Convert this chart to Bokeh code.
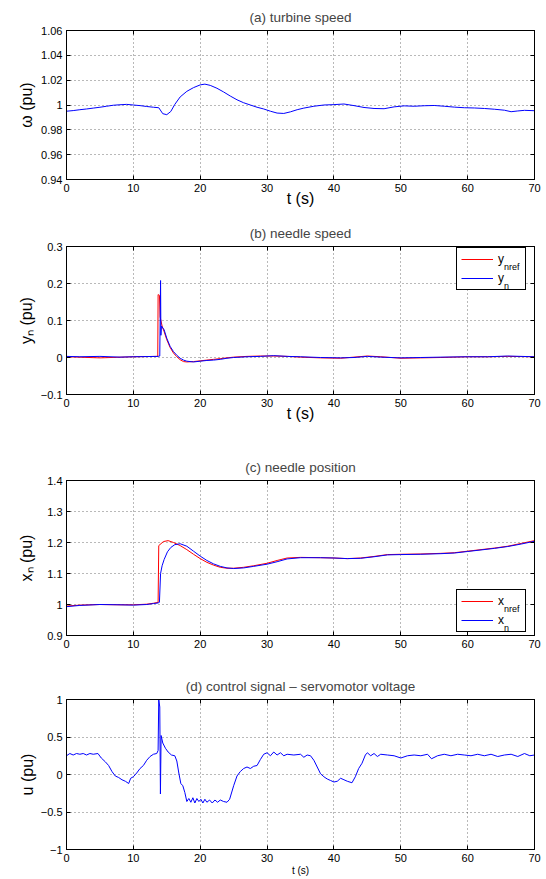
from bokeh.plotting import figure
from bokeh.layouts import column
from bokeh.models import (Range1d, FixedTicker, CustomJSTickFormatter, LinearAxis,
                          Legend, LegendItem)
from bokeh.embed import file_html
from bokeh.resources import INLINE

FONT = "Liberation Sans"

# ---------------- data ----------------
x_ticks = [0, 10, 20, 30, 40, 50, 60, 70]

# (a) turbine speed
t_a = [0, 1, 2, 3, 4, 5, 6, 7, 8, 9,
       10, 11, 12, 13, 13.8, 14.4, 15.0, 15.6, 16.2, 17.0,
       18, 19, 20, 20.7, 21.5, 22.5, 23.5, 24.5, 25.5, 26.5,
       27.5, 28.5, 29.5, 30.5, 31.5, 32.5, 33.5, 34.5, 35.5, 37,
       38.5, 40, 41.5, 43, 44.5, 46, 47.5, 49, 50.5, 52,
       53.5, 55, 56.5, 58, 59.5, 61, 62.5, 64, 65.5, 66.5,
       67.5, 68.5, 70]
omega = [0.9950, 0.9955, 0.9962, 0.9968, 0.9975, 0.9982, 0.9990, 0.9998, 1.0002, 1.0005,
         1.0000, 0.9995, 0.9988, 0.9982, 0.9978, 0.9930, 0.9922, 0.9948, 1.0005, 1.0065,
         1.0110, 1.0140, 1.0162, 1.0168, 1.0158, 1.0135, 1.0105, 1.0072, 1.0042, 1.0018,
         1.0000, 0.9982, 0.9968, 0.9950, 0.9935, 0.9932, 0.9945, 0.9962, 0.9975, 0.9990,
         1.0000, 1.0003, 1.0008, 0.9995, 0.9980, 0.9972, 0.9970, 0.9985, 0.9993, 0.9990,
         0.9994, 0.9996, 0.9990, 0.9983, 0.9978, 0.9976, 0.9972, 0.9966, 0.9958, 0.9946,
         0.9952, 0.9957, 0.9954]
omega_ticks = [0.94, 0.96, 0.98, 1.0, 1.02, 1.04, 1.06]

# (b) needle speed
t_b_ref = [0, 5, 10, 13.65, 13.7, 13.9, 14.0, 14.3, 14.6, 15.0,
           15.5, 16.0, 16.5, 17.0, 17.5, 18.0, 19.0, 20.0, 21.0, 22.0,
           23, 24, 25, 27, 29, 31, 33, 35, 38, 41,
           43, 45, 47, 50, 53, 56, 60, 63, 66, 70]
y_nref = [0.002, -0.001, 0.002, 0.003, 0.170, 0.168, 0.110, 0.085, 0.070, 0.048,
          0.027, 0.012, 0.002, -0.006, -0.011, -0.012, -0.011, -0.009, -0.007, -0.005,
          -0.003, -0.001, 0.001, 0.003, 0.004, 0.004, 0.003, 0.001, -0.001, -0.002,
          0.001, 0.004, 0.002, -0.002, -0.001, 0.000, 0.002, 0.002, 0.003, 0.002]
t_b = [0, 2, 5, 8, 10, 13.7, 13.95, 14.07, 14.12, 14.2,
       14.6, 15, 15.5, 16, 16.5, 17, 17.5, 18, 19, 20,
       21, 22, 23, 24, 25, 27, 29, 31, 33, 35,
       38, 41, 43, 45, 47, 50, 53, 56, 60, 63,
       66, 70]
y_n = [0.003, 0.002, 0.003, 0.001, 0.002, 0.003, 0.004, 0.208, 0.060, 0.085,
       0.075, 0.052, 0.030, 0.016, 0.006, -0.002, -0.007, -0.010, -0.012, -0.010,
       -0.008, -0.007, -0.005, -0.002, 0.000, 0.002, 0.003, 0.005, 0.003, 0.002,
       0.000, -0.001, 0.000, 0.003, 0.001, -0.001, 0.000, 0.001, 0.002, 0.002,
       0.004, 0.002]
yn_ticks = [-0.1, 0.0, 0.1, 0.2, 0.3]

# (c) needle position
t_c_ref = [0, 2, 5, 8, 10, 12, 13, 13.7, 13.8, 14.5,
           15.2, 16, 17, 18, 19, 20, 21, 22, 23, 24,
           25, 26.5, 28, 30, 31.5, 33, 35, 38, 40, 42,
           44, 46, 48, 50, 53, 56, 58, 60, 62, 64,
           66, 68, 70]
x_nref = [0.995, 0.998, 1.000, 0.999, 0.999, 1.001, 1.004, 1.007, 1.190, 1.203,
          1.206, 1.200, 1.190, 1.177, 1.162, 1.148, 1.136, 1.127, 1.120, 1.117,
          1.117, 1.120, 1.125, 1.133, 1.142, 1.150, 1.152, 1.151, 1.150, 1.148,
          1.150, 1.155, 1.161, 1.162, 1.163, 1.165, 1.167, 1.172, 1.177, 1.182,
          1.188, 1.197, 1.206]
t_c = [0, 2, 5, 8, 10, 12, 13, 13.7, 13.9, 14.07,
       14.3, 14.6, 15.1, 15.6, 16.2, 17, 18, 19, 20, 21,
       22, 23, 24, 25, 26.5, 28, 30, 31.5, 33, 35,
       38, 40, 42, 44, 46, 48, 50, 53, 56, 58,
       60, 62, 64, 66, 68, 70]
x_n = [0.993, 0.997, 1.000, 0.999, 0.998, 1.000, 1.003, 1.005, 1.007, 1.100,
       1.125, 1.145, 1.170, 1.184, 1.193, 1.196, 1.188, 1.172, 1.156, 1.142,
       1.131, 1.123, 1.118, 1.116, 1.118, 1.123, 1.130, 1.138, 1.147, 1.151,
       1.151, 1.150, 1.148, 1.149, 1.154, 1.160, 1.161, 1.162, 1.164, 1.166,
       1.171, 1.176, 1.181, 1.187, 1.195, 1.204]
xn_ticks = [0.9, 1.0, 1.1, 1.2, 1.3, 1.4]

# (d) control signal
t_d = [0, 0.5, 1.0, 1.5, 2.0, 2.5, 3.0, 3.5, 4.0, 4.7,
       5.2, 5.8, 6.3, 6.8, 7.3, 7.8, 8.3, 8.8, 9.3, 9.6,
       10.0, 10.5, 11.0, 11.5, 12.0, 12.5, 13.0, 13.5, 13.7, 13.8,
       13.95, 14.05, 14.15, 14.4, 14.8, 15.2, 15.7, 16.2, 16.5, 16.8,
       17.1, 17.4, 17.7, 18.0, 18.3, 18.6, 18.9, 19.2, 19.5, 19.8,
       20.1, 20.4, 20.7, 21.0, 21.4, 21.8, 22.2, 22.6, 23.0, 23.5,
       24.0, 24.4, 25.0, 25.5, 26.0, 26.5, 27.0, 27.5, 28.0, 28.5,
       29.0, 29.5, 30.0, 30.5, 31.0, 31.5, 32.0, 32.5, 33.0, 34.0,
       35.0, 35.5, 36.0, 36.5, 37.0, 37.5, 38.0, 38.5, 39.0, 39.5,
       40.0, 40.5, 41.0, 41.5, 42.0, 42.7, 43.2, 43.7, 44.2, 44.7,
       45.0, 45.5, 46.0, 46.5, 47.0, 48.0, 49.0, 50.0, 51.0, 52.0,
       53.0, 54.0, 54.6, 55.5, 56.5, 57.5, 58.5, 59.5, 60.5, 61.5,
       62.5, 63.5, 64.5, 65.5, 66.5, 67.5, 68.5, 69.3, 70.0]
u = [0.25, 0.28, 0.26, 0.28, 0.27, 0.28, 0.26, 0.28, 0.27, 0.28,
     0.22, 0.17, 0.12, 0.04, -0.02, -0.04, -0.07, -0.09, -0.12, -0.05,
     -0.03, 0.02, 0.08, 0.12, 0.19, 0.24, 0.27, 0.28, 0.32, 1.00,
     0.90, -0.26, 0.52, 0.42, 0.35, 0.30, 0.26, 0.25, 0.18, 0.02,
     -0.12, -0.15, -0.24, -0.36, -0.32, -0.37, -0.31, -0.38, -0.32, -0.36,
     -0.33, -0.38, -0.33, -0.37, -0.34, -0.38, -0.34, -0.37, -0.34, -0.36,
     -0.37, -0.33, -0.15, -0.02, 0.04, 0.08, 0.10, 0.08, 0.11, 0.12,
     0.20, 0.27, 0.29, 0.25, 0.30, 0.26, 0.29, 0.25, 0.27, 0.26,
     0.27, 0.23, 0.26, 0.25, 0.19, 0.10, 0.01, -0.03, -0.06, -0.08,
     -0.10, -0.09, -0.05, -0.07, -0.09, -0.11, -0.03, 0.08, 0.15, 0.26,
     0.29, 0.25, 0.28, 0.24, 0.27, 0.26, 0.25, 0.22, 0.25, 0.26,
     0.25, 0.27, 0.21, 0.25, 0.27, 0.25, 0.27, 0.26, 0.25, 0.27,
     0.25, 0.27, 0.24, 0.26, 0.27, 0.24, 0.28, 0.25, 0.26]
u_ticks = [-1.0, -0.5, 0.0, 0.5, 1.0]

BLUE = "#0000ff"
RED = "#ff0000"

FMT_CODE = "const v = Math.round(tick*1000)/1000; return String(v).replace('-', '\u2212');"


def make_panel(title, ylo, yhi, yticks, ylabel, frame_h, top, bottom, ylab_standoff,
               xlabel="t (s)", xlabel_size="16px", xlabel_standoff=-5):
    p = figure(frame_width=468, frame_height=frame_h,
               min_border_left=66, min_border_right=10,
               min_border_top=top, min_border_bottom=bottom,
               x_range=Range1d(0, 70), y_range=Range1d(ylo, yhi),
               output_backend="svg", toolbar_location=None, title=title)
    p.title.text_font = FONT
    p.title.text_font_size = "13.5px"
    p.title.text_font_style = "normal"
    p.title.align = "center"
    p.title.standoff = 12
    p.outline_line_color = "black"
    p.outline_line_width = 1
    p.background_fill_color = "white"
    p.border_fill_color = "white"

    xt = FixedTicker(ticks=x_ticks)
    yt = FixedTicker(ticks=yticks)
    for ax, tk in ((p.xaxis[0], xt), (p.yaxis[0], yt)):
        ax.ticker = tk
        ax.formatter = CustomJSTickFormatter(code=FMT_CODE)
        ax.major_tick_in = 4
        ax.major_tick_out = 0
        ax.minor_tick_line_color = None
        ax.axis_line_color = "black"
        ax.major_tick_line_color = "black"
        ax.major_label_text_font = FONT
        ax.major_label_text_font_size = "11px"
        ax.major_label_text_color = "black"
        ax.major_label_standoff = 4
        ax.axis_label_text_font = FONT
        ax.axis_label_text_font_style = "normal"
        ax.axis_label_text_color = "black"
    p.yaxis[0].axis_label = ylabel
    p.yaxis[0].axis_label_text_font_size = "16px"
    p.yaxis[0].axis_label_standoff = ylab_standoff
    if xlabel:
        p.xaxis[0].axis_label = xlabel
        p.xaxis[0].axis_label_text_font_size = xlabel_size
        p.xaxis[0].axis_label_standoff = xlabel_standoff

    # mirrored ticks on top and right (MATLAB box style)
    for side, tk in (("right", yt), ("above", xt)):
        ax = LinearAxis(ticker=tk, major_tick_in=4, major_tick_out=0,
                        minor_tick_line_color=None, major_label_text_font_size="0px",
                        major_label_text_alpha=0, major_label_standoff=0,
                        axis_line_color="black", major_tick_line_color="black")
        p.add_layout(ax, side)

    p.xgrid.ticker = xt
    p.ygrid.ticker = yt
    for g in (p.xgrid[0], p.ygrid[0]):
        g.grid_line_color = "black"
        g.grid_line_alpha = 0.55
        g.grid_line_dash = "1 3"
        g.grid_line_width = 1
    return p


def sub_legend(p, r1, r2, loc, main, sub1, sub2):
    # main legend: line samples + base letter
    leg = Legend(items=[LegendItem(label=main, renderers=[r1]),
                        LegendItem(label=main, renderers=[r2])],
                 location=loc, padding=4, glyph_width=32, glyph_height=14,
                 label_height=14, label_width=23, label_standoff=5, spacing=5,
                 margin=0, border_line_color="black", border_line_width=1,
                 border_line_alpha=1, background_fill_color="white",
                 background_fill_alpha=1, label_text_font=FONT,
                 label_text_font_size="12px", label_text_color="black")
    p.add_layout(leg)
    # subscripts: second, frameless legend shifted right/down
    sub = Legend(items=[LegendItem(label=sub1, renderers=[r1]),
                        LegendItem(label=sub2, renderers=[r2])],
                 location=(loc[0] + 48, loc[1] - 3), padding=4, glyph_width=0,
                 glyph_height=14, label_height=14, label_width=10, label_standoff=0,
                 spacing=5, margin=0, border_line_color=None,
                 background_fill_alpha=0, label_text_font=FONT,
                 label_text_font_size="9px", label_text_color="black")
    p.add_layout(sub)


# (a)
pa = make_panel("(a) turbine speed", 0.94, 1.06, omega_ticks, "ω (pu)", 149, 30, 37, 3)
pa.line(t_a, omega, color=BLUE, line_width=1)

# (b)
pb = make_panel("(b) needle speed", -0.1, 0.3, yn_ticks, "yₙ (pu)", 148, 30, 56, 3)
rb1 = pb.line(t_b_ref, y_nref, color=RED, line_width=1)
rb2 = pb.line(t_b, y_n, color=BLUE, line_width=1)
sub_legend(pb, rb1, rb2, (390, 104), "y", "nref", "n")

# (c)
pc = make_panel("(c) needle position", 0.9, 1.4, xn_ticks, "xₙ (pu)", 155, 30, 34, 9, xlabel=None)
rc1 = pc.line(t_c_ref, x_nref, color=RED, line_width=1)
rc2 = pc.line(t_c, x_n, color=BLUE, line_width=1)
sub_legend(pc, rc1, rc2, (390, 3), "x", "nref", "n")

# (d)
pd = make_panel("(d) control signal \u2013 servomotor voltage", -1, 1, u_ticks, "u (pu)", 150, 30, 29, 2,
                xlabel="t (s)", xlabel_size="10px", xlabel_standoff=0)
pd.line(t_d, u, color=BLUE, line_width=1)

layout = column(pa, pb, pc, pd)
open("out.html", "w").write(file_html(layout, INLINE))
